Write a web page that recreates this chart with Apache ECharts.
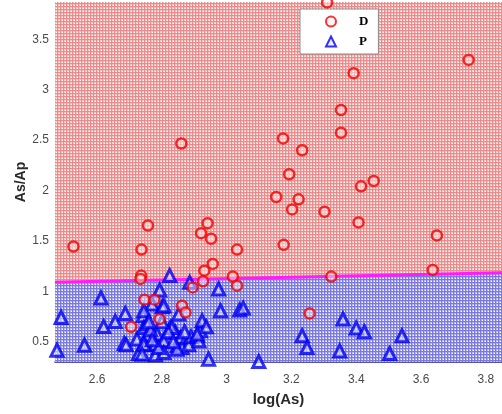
<!DOCTYPE html>
<html>
<head>
<meta charset="utf-8">
<script src="https://cdn.jsdelivr.net/npm/echarts@6/dist/echarts.min.js"></script>
<style>html,body{margin:0;padding:0;background:#fff;}#c{width:502px;height:414px;}</style>
</head>
<body>
<div id="c"></div>
<script>
// ---- data ----
const xTicks = [2.6, 2.8, 3.0, 3.2, 3.4, 3.6, 3.8];
const yTicks = [0.5, 1, 1.5, 2, 2.5, 3, 3.5];
const boundaryX = [2.47, 3.85];
const boundaryY = [1.09, 1.184];
const dX = [2.527,2.860,3.310,3.747,3.392,3.353,3.353,3.174,3.233,3.193,3.415,3.454,3.153,3.222,3.202,3.302,3.407,3.176,3.649,3.636,3.323,3.256,2.757,2.737,2.736,2.734,2.941,2.921,2.952,2.957,2.931,2.927,3.032,3.019,3.032,2.895,2.746,2.777,2.793,2.705,2.862,2.873];
const dY = [1.445,2.467,3.866,3.296,3.164,2.799,2.573,2.517,2.400,2.162,2.042,2.095,1.936,1.913,1.813,1.790,1.684,1.462,1.555,1.213,1.147,0.782,1.654,1.415,1.157,1.124,1.677,1.578,1.522,1.273,1.206,1.100,1.415,1.147,1.057,1.040,0.918,0.918,0.726,0.649,0.858,0.792];
const pX = [2.476,2.489,2.561,2.612,2.620,2.656,2.687,2.684,2.690,2.728,2.723,2.742,2.744,2.754,2.749,2.780,2.770,2.793,2.801,2.806,2.785,2.780,2.806,2.806,2.824,2.826,2.842,2.852,2.847,2.857,2.862,2.883,2.886,2.890,2.909,2.919,2.924,2.937,2.914,2.944,2.975,2.981,3.040,3.051,3.099,3.233,3.248,3.349,3.359,3.400,3.425,3.503,3.541,2.744,2.754,2.831,2.909,2.847,2.790,2.744,2.739,2.765,2.770,2.820,2.835,2.870,2.800,2.760];
const pY = [0.417,0.742,0.467,0.935,0.652,0.702,0.782,0.483,0.470,0.384,0.527,0.759,0.642,0.560,0.470,0.371,0.875,1.014,0.848,0.858,0.577,0.477,0.510,0.394,1.157,0.642,0.593,0.776,0.460,0.543,0.443,0.470,1.090,0.550,0.560,0.609,0.709,0.649,0.510,0.328,1.024,0.808,0.815,0.835,0.304,0.560,0.443,0.410,0.726,0.636,0.600,0.384,0.560,0.808,0.676,0.642,0.577,0.427,0.443,0.477,0.378,0.620,0.520,0.600,0.500,0.600,0.700,0.700];

const zip = (a, b) => a.map((v, i) => [v, b[i]]);

function pattern(base, line) {
  const c = document.createElement('canvas');
  c.width = 3; c.height = 3;
  const g = c.getContext('2d');
  g.fillStyle = base; g.fillRect(0, 0, 3, 3);
  g.fillStyle = line; g.fillRect(0, 0, 3, 1); g.fillRect(0, 0, 1, 3);
  g.fillStyle = '#ffffff'; g.fillRect(2, 2, 1, 1);
  return { image: c, repeat: 'repeat' };
}

const chart = echarts.init(document.getElementById('c'), null, { renderer: 'canvas' });
const labelFont = { color: '#4a4a4a', fontSize: 12, fontFamily: 'Liberation Sans, Arial, sans-serif' };
chart.setOption({
  animation: false,
  backgroundColor: '#fff',
  grid: { left: 55, right: 0, top: 2, bottom: 52, containLabel: false, outerBoundsMode: 'none' },
  legend: {
    data: ['D', 'P'],
    orient: 'vertical',
    left: 300, top: 9,
    padding: [6, 10, 6, 25],
    itemWidth: 10, itemHeight: 10, itemGap: 7,
    backgroundColor: '#fff',
    borderColor: '#8a8a8a', borderWidth: 1,
    textStyle: { color: '#000', fontSize: 13, fontWeight: 'bold', fontFamily: 'Liberation Serif, serif', padding: [0, 0, 0, 18] }
  },
  xAxis: [{
    type: 'value', min: 2.47, max: 3.85, position: 'bottom',
    name: 'log(As)', nameLocation: 'middle', nameGap: 30,
    nameTextStyle: { color: '#2a2a2a', fontSize: 15, fontWeight: 'bold', fontFamily: 'Liberation Sans, Arial, sans-serif' },
    axisLine: { show: true, lineStyle: { color: '#1c1c8c', width: 1.5 } },
    axisTick: { show: true, inside: true, length: 4, customValues: xTicks, lineStyle: { color: '#333' } },
    axisLabel: Object.assign({ customValues: xTicks, margin: 12, formatter: v => String(+v.toFixed(1)) }, labelFont),
    splitLine: { show: false }
  }, {
    type: 'value', min: 2.47, max: 3.85, position: 'top',
    axisLine: { show: false },
    axisTick: { show: true, inside: true, length: 4, customValues: xTicks, lineStyle: { color: '#333' } },
    axisLabel: { show: false },
    splitLine: { show: false }
  }],
  yAxis: {
    type: 'value', min: 0.3, max: 3.87,
    name: 'As/Ap', nameLocation: 'middle', nameGap: 27, nameMoveOverlap: false,
    nameTextStyle: { color: '#2a2a2a', fontSize: 14, fontWeight: 'bold', fontFamily: 'Liberation Sans, Arial, sans-serif' },
    axisLine: { show: false },
    axisTick: { show: true, inside: true, length: 4, customValues: yTicks, lineStyle: { color: '#333' } },
    axisLabel: Object.assign({ customValues: yTicks, margin: 6, formatter: v => String(+v.toFixed(1)) }, labelFont),
    splitLine: { show: false }
  },
  series: [
    {
      name: 'regionP', type: 'line', data: zip(boundaryX, boundaryY), symbol: 'none', silent: true, z: 1,
      lineStyle: { width: 0 }, areaStyle: { origin: 'start', color: pattern('#b9b9ef', '#7a7ade'), opacity: 1 }
    },
    {
      name: 'regionD', type: 'line', data: zip(boundaryX, boundaryY), symbol: 'none', silent: true, z: 1,
      lineStyle: { width: 0 }, areaStyle: { origin: 'end', color: pattern('#f6c4c4', '#e98c8c'), opacity: 1 }
    },
    {
      name: 'boundary', type: 'line', data: zip(boundaryX, boundaryY), symbol: 'none', silent: true, z: 2,
      lineStyle: { width: 3, color: '#ff1aff' }
    },
    {
      name: 'P', type: 'scatter', data: zip(pX, pY), symbol: 'triangle', symbolSize: 12, z: 3,
      itemStyle: { color: 'rgba(225,225,255,0.7)', borderColor: '#0000f0', borderWidth: 3 }
    },
    {
      name: 'D', type: 'scatter', data: zip(dX, dY), symbol: 'circle', symbolSize: 10, z: 4,
      itemStyle: { color: 'rgba(255,235,235,0.6)', borderColor: '#f00000', borderWidth: 2.5 }
    }
  ]
});
</script>
</body>
</html>
